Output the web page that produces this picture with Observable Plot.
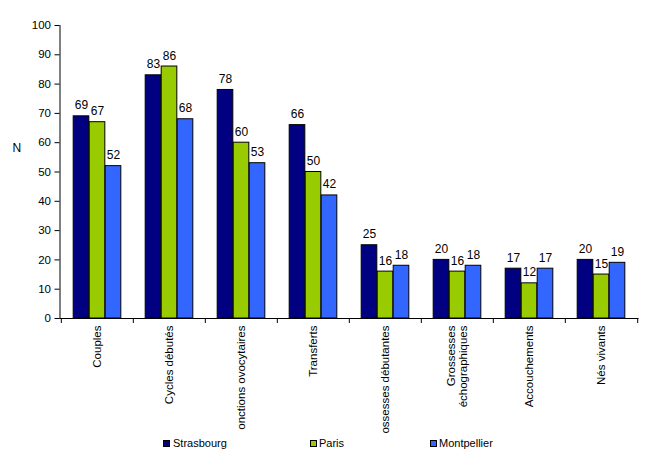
<!DOCTYPE html>
<html>
<head>
<meta charset="utf-8">
<script src="https://cdn.jsdelivr.net/npm/d3@7"></script>
<script src="https://cdn.jsdelivr.net/npm/@observablehq/plot@0.6"></script>
<style>
  html, body { margin: 0; padding: 0; background: white; }
  #chart { width: 647px; }
  .legend { position: relative; width: 647px; height: 27px; font-family: "Liberation Sans", Arial, sans-serif; font-size: 11px; color: black; }
  .legend .sw { position: absolute; top: 7px; width: 5px; height: 5px; border: 1px solid black; }
  .legend .lb { position: absolute; top: 4px; line-height: 13px; }
</style>
</head>
<body>
<div id="chart"></div>
<script>
const categories = ["Couples", "Cycles débutés", "onctions ovocytaires", "Transferts", "ossesses débutantes", "Grossesses\néchographiques", "Accouchements", "Nés vivants"];
const strasbourg = [69, 83, 78, 66, 25, 20, 17, 20];
const paris = [67, 86, 60, 50, 16, 16, 12, 15];
const montpellier = [52, 68, 53, 42, 18, 18, 17, 19];
const cities = ["Strasbourg", "Paris", "Montpellier"];
const colors = ["#000080", "#99CC00", "#3366FF"];
const yTicks = [0, 10, 20, 30, 40, 50, 60, 70, 80, 90, 100];

const series = [strasbourg, paris, montpellier];
const W = 647, H = 433, mL = 59.5, mR = 8.5, mT = 25, mB = 115;
const bw = (W - mL - mR) / categories.length;
const barW = 16;
const off = (bw - 3 * barW) / 2;
const pxPerUnit = (H - mT - mB) / 100;

const marks = [];
series.forEach((vals, k) => {
  const rows = categories.map((c, i) => ({cat: c, v: vals[i], city: cities[k]}));
  marks.push(Plot.barY(rows, {
    x: "cat", y: "v", fill: colors[k], stroke: "black", strokeWidth: 1,
    insetLeft: off + k * barW, insetRight: bw - off - (k + 1) * barW
  }));
});
series.forEach((vals, k) => {
  const rows = categories.map((c, i) => ({cat: c, v: vals[i]}));
  marks.push(Plot.text(rows, {
    x: "cat", y: "v", text: d => String(d.v), dx: (k - 1) * barW, dy: -7,
    lineAnchor: "bottom", fontSize: 12, fill: "black"
  }));
});

const plot = Plot.plot({
  width: W, height: H,
  marginLeft: mL, marginRight: mR, marginTop: mT, marginBottom: mB,
  style: {fontFamily: "Liberation Sans, Arial, sans-serif", fontSize: "11.5px", color: "black", background: "white", overflow: "hidden"},
  x: {domain: categories, padding: 0, axis: null},
  y: {domain: [0, 100], axis: null},
  marks: [
    ...marks,
    Plot.frame({anchor: "left", stroke: "black"}),
    Plot.ruleY([0], {stroke: "black"}),
    Plot.ruleX(categories, {dx: -bw / 2, y1: 0, y2: -5 / pxPerUnit, stroke: "black"}),
    Plot.ruleX([categories[categories.length - 1]], {dx: bw / 2, y1: 0, y2: -5 / pxPerUnit, stroke: "black"}),
    Plot.axisY({ticks: yTicks, tickSize: 5, tickPadding: 4, fontSize: 11.5, label: null, stroke: "black"}),
    Plot.axisX({tickRotate: -90, tickSize: 0, tickPadding: 7, fontSize: 11.5, label: null}),
    Plot.text(["N"], {frameAnchor: "left", dx: -47.5, dy: -23.5, fontSize: 12, fill: "black"})
  ]
});
document.getElementById("chart").appendChild(plot);

const legend = document.createElement("div");
legend.className = "legend";
const legendPos = [[163, 173], [310, 319], [430, 439]];
cities.forEach((c, k) => {
  const sw = document.createElement("div");
  sw.className = "sw";
  sw.style.left = legendPos[k][0] + "px";
  sw.style.background = colors[k];
  legend.appendChild(sw);
  const lb = document.createElement("div");
  lb.className = "lb";
  lb.style.left = legendPos[k][1] + "px";
  lb.textContent = c;
  legend.appendChild(lb);
});
document.getElementById("chart").appendChild(legend);
</script>
</body>
</html>
